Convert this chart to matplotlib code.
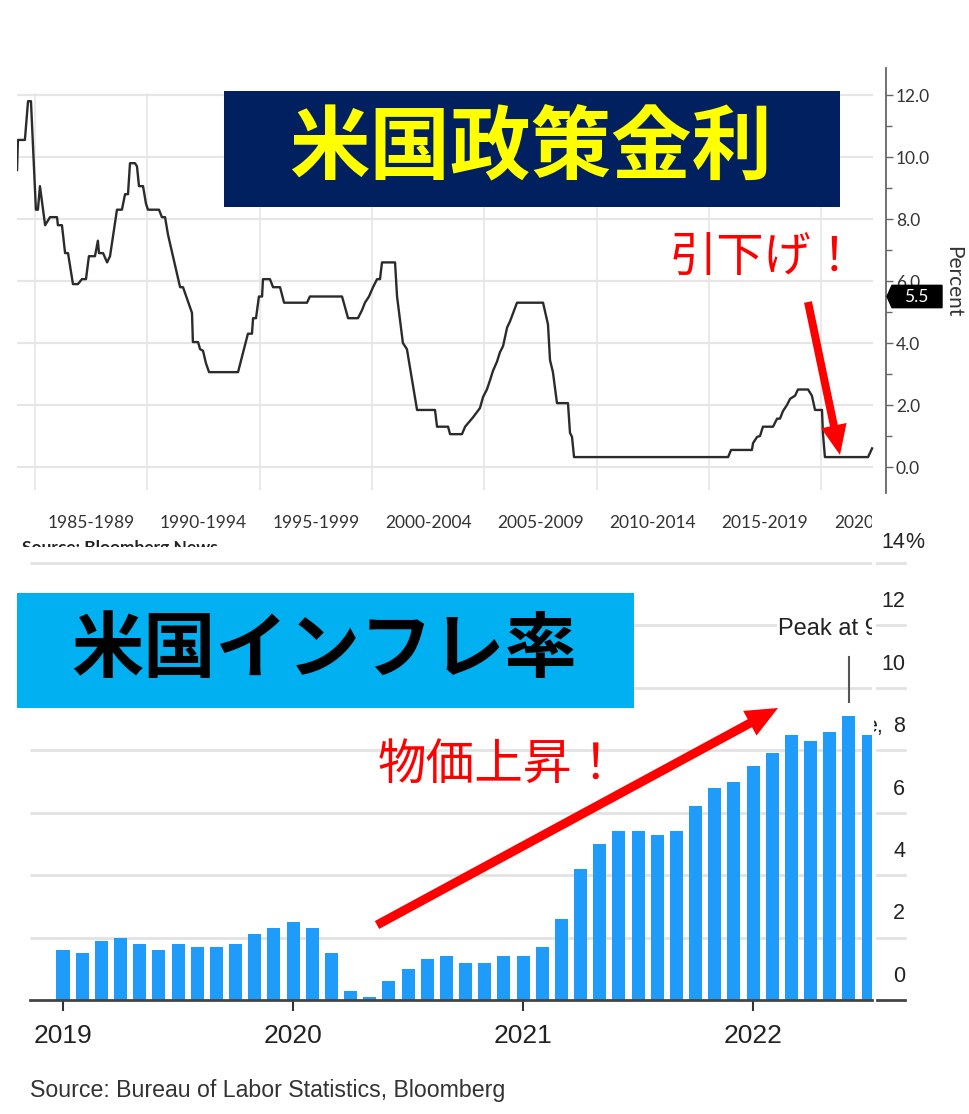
import numpy as np
import matplotlib
matplotlib.use("Agg")
import matplotlib.pyplot as plt
from matplotlib.transforms import Bbox, TransformedBbox, blended_transform_factory
from matplotlib.patches import Polygon, Rectangle, FancyArrow

plt.rcParams['font.family'] = ['Lato', 'Noto Sans CJK JP', 'DejaVu Sans']

W, H = 969, 1114

# upper chart: US policy rate, vertices of the step line (year, percent)
fed_year = [1984.20, 1984.24, 1984.55, 1984.69, 1984.82, 1985.04, 1985.13, 1985.22, 1985.45, 1985.67,
            1985.98, 1986.02, 1986.20, 1986.34, 1986.47, 1986.69, 1986.91, 1987.09, 1987.27, 1987.40,
            1987.67, 1987.80, 1987.85, 1988.03, 1988.21, 1988.34, 1988.65, 1988.87, 1989.01, 1989.14,
            1989.23, 1989.45, 1989.54, 1989.63, 1989.81, 1989.94, 1990.03, 1990.52, 1990.65, 1990.79,
            1990.92, 1991.46, 1991.59, 1991.99, 1992.03, 1992.26, 1992.35, 1992.48, 1992.61, 1992.75,
            1994.04, 1994.44, 1994.48, 1994.66, 1994.71, 1994.84, 1994.97, 1995.11, 1995.15, 1995.46,
            1995.60, 1995.91, 1996.09, 1997.11, 1997.24, 1998.67, 1998.94, 1999.38, 1999.56, 1999.69,
            1999.87, 2000.05, 2000.23, 2000.36, 2000.45, 2001.03, 2001.12, 2001.38, 2001.56, 2002.01,
            2002.81, 2002.90, 2003.39, 2003.48, 2004.01, 2004.15, 2004.50, 2004.81, 2004.95, 2005.12,
            2005.26, 2005.39, 2005.57, 2005.70, 2005.84, 2006.02, 2006.15, 2006.46, 2007.62, 2007.84,
            2007.93, 2008.06, 2008.24, 2008.73, 2008.82, 2008.91, 2009.00, 2015.86, 2015.99, 2016.92,
            2016.97, 2017.15, 2017.28, 2017.41, 2017.86, 2018.04, 2018.17, 2018.30, 2018.48, 2018.62,
            2018.84, 2018.97, 2019.42, 2019.59, 2019.73, 2020.04, 2020.08, 2020.17, 2022.09, 2022.27]
fed_rate = [9.58, 10.55, 10.55, 11.8, 11.8, 8.3, 8.3, 9.06, 7.8, 8.06,
            8.06, 7.8, 7.8, 6.9, 6.9, 5.9, 5.9, 6.06, 6.06, 6.8,
            6.8, 7.3, 6.9, 6.9, 6.6, 6.8, 8.3, 8.3, 8.8, 8.8,
            9.8, 9.8, 9.7, 9.06, 9.06, 8.5, 8.3, 8.3, 8.06, 8.06,
            7.5, 5.8, 5.8, 4.97, 4.03, 4.03, 3.8, 3.75, 3.35, 3.06,
            3.06, 4.2, 4.3, 4.3, 4.8, 4.8, 5.5, 5.5, 6.06, 6.06,
            5.8, 5.8, 5.3, 5.3, 5.5, 5.5, 4.8, 4.8, 5.06, 5.3,
            5.5, 5.8, 6.06, 6.06, 6.6, 6.6, 5.5, 4.0, 3.8, 1.84,
            1.84, 1.3, 1.3, 1.06, 1.06, 1.3, 1.6, 1.9, 2.26, 2.5,
            2.8, 3.1, 3.4, 3.7, 3.9, 4.5, 4.7, 5.3, 5.3, 4.6,
            3.45, 3.06, 2.06, 2.06, 1.1, 0.97, 0.32, 0.32, 0.55, 0.55,
            0.77, 0.97, 1.0, 1.3, 1.3, 1.56, 1.56, 1.8, 2.0, 2.2,
            2.3, 2.5, 2.5, 2.3, 1.84, 1.84, 1.1, 0.32, 0.32, 0.6]
fed_last_label = 5.5
fed_ticks = [0, 2, 4, 6, 8, 10, 12]
period_starts = [1985, 1990, 1995, 2000, 2005, 2010, 2015, 2020]
period_labels = ["1985-1989", "1990-1994", "1995-1999", "2000-2004",
                 "2005-2009", "2010-2014", "2015-2019", "2020-2024"]

# lower chart: US CPI, % change y/y, Jan 2019 - Jul 2022
cpi_values = [1.6, 1.5, 1.9, 2.0, 1.8, 1.6, 1.8, 1.7, 1.7, 1.8, 2.1, 2.3,
              2.5, 2.3, 1.5, 0.3, 0.1, 0.6, 1.0, 1.3, 1.4, 1.2, 1.2, 1.4,
              1.4, 1.7, 2.6, 4.2, 5.0, 5.4, 5.4, 5.3, 5.4, 6.2, 6.8, 7.0,
              7.5, 7.9, 8.5, 8.3, 8.6, 9.1, 8.5]
cpi_years = ["2019", "2020", "2021", "2022"]
cpi_ticks = [0, 2, 4, 6, 8, 10, 12, 14]


def rect(x0, y0, x1, y1):
    return [x0 / W, 1 - y1 / H, (x1 - x0) / W, (y1 - y0) / H]


def clip_fig(fig, x0, y0, x1, y1):
    return TransformedBbox(Bbox([[x0 / W, 1 - y1 / H], [x1 / W, 1 - y0 / H]]), fig.transFigure)


fig = plt.figure(figsize=(W / 100, H / 100), dpi=100)

# ---------------- upper chart ----------------
ax1 = fig.add_axes(rect(17, 68, 886, 493))
px_year = 22.46
ax1.set_xlim(1985 - 18 / px_year, 1985 + 851 / px_year)
ax1.set_ylim((467 - 493) / 31, (467 - 68) / 31)
grid_right = 1985 + 838 / px_year
ax1.vlines(period_starts, -0.74, 12.05, color='#e6e6e6', lw=1.2, zorder=1)
ax1.hlines(fed_ticks, ax1.get_xlim()[0], grid_right, color='#e6e6e6', lw=1.5, zorder=1)
ax1.plot(fed_year, fed_rate, color='#2b2b2b', lw=1.7, zorder=3)

for s in ['top', 'left', 'bottom']:
    ax1.spines[s].set_visible(False)
ax1.spines['right'].set_color('#666666')
ax1.spines['right'].set_linewidth(1.3)
ax1.set_xticks([])
ax1.yaxis.tick_right()
ax1.set_yticks(fed_ticks)
ax1.set_yticklabels([f"{v:.1f}" for v in fed_ticks])
ax1.set_yticks([v + 1 for v in fed_ticks[:-1]], minor=True)
ax1.tick_params(axis='y', which='major', direction='out', length=5, width=1, color='#666666',
                labelsize=12.5, labelcolor='#333333', pad=2)
ax1.tick_params(axis='y', which='minor', direction='out', length=4, width=1, color='#666666')
fig.text(953 / W, 1 - 282 / H, "Percent", rotation=270, ha='center', va='center',
         fontsize=15, color='#333333')

# last value tag
tag_tr = blended_transform_factory(fig.transFigure, ax1.transData)
hh = 0.36
tag = Polygon([(887 / W, fed_last_label), (892 / W, fed_last_label + hh), (942 / W, fed_last_label + hh),
               (942 / W, fed_last_label - hh), (892 / W, fed_last_label - hh)],
              closed=True, fc='black', ec='black', transform=tag_tr, zorder=20)
fig.add_artist(tag)
fig.text(916 / W, fed_last_label, f"{fed_last_label}", transform=tag_tr, ha='center', va='center',
         color='white', fontsize=12.5, zorder=21)

lab_tr = blended_transform_factory(ax1.transData, fig.transFigure)
cbox = clip_fig(fig, 0, 0, 872, H)
for start, lab in zip(period_starts, period_labels):
    t = fig.text(start + 2.5, 1 - 523 / H, lab, transform=lab_tr, ha='center', va='center',
                 fontsize=12.5, color='#333333')
    t.set_clip_box(cbox)
    t.set_clip_on(True)
src1 = fig.text(22 / W, 1 - 548 / H, "Source: Bloomberg News", ha='left', va='center',
                fontsize=12.5, fontweight='bold', color='#222222')
src1.set_clip_box(clip_fig(fig, 0, 0, W, 547))
src1.set_clip_on(True)

# ---------------- lower chart ----------------
ax2 = fig.add_axes(rect(30, 540, 872, 1000))
px_month = 19.17
px_unit = 31.21
ax2.set_xlim((30 - 63) / px_month, (872 - 63) / px_month)
ax2.set_ylim(0, (1000 - 540) / px_unit)
idx = np.arange(len(cpi_values))
ax2.hlines(cpi_ticks[1:], ax2.get_xlim()[0], ax2.get_xlim()[1], color='#e2e2e2', lw=2, zorder=1)
ax2.bar(idx, cpi_values, width=0.68, color='#1f9bf9', zorder=3)
for s in ['top', 'left', 'right']:
    ax2.spines[s].set_visible(False)
ax2.spines['bottom'].set_color('#444444')
ax2.spines['bottom'].set_linewidth(2)
ax2.spines['bottom'].set_zorder(4)
ax2.set_yticks([])
ax2.set_xticks([12 * i for i in range(len(cpi_years))])
ax2.set_xticklabels(cpi_years, family='Liberation Sans')
ax2.tick_params(axis='x', direction='out', length=8, width=1.5, color='#333333',
                labelsize=19, labelcolor='#222222', pad=9)

peak_i = int(np.argmax(cpi_values))
peak_v = cpi_values[peak_i]
ax2.plot([peak_i, peak_i], [peak_v + 0.45, peak_v + 1.9], color='#555555', lw=1.5, zorder=4)
ax2.text(peak_i - 3.7, peak_v + 2.8, f"Peak at {peak_v}%", ha='left', va='center', fontsize=17,
         family='Liberation Sans', color='#222222', zorder=5, clip_on=True,
         bbox=dict(fc='white', ec='none', pad=1))

# right-hand tick area of the lower chart
rt = blended_transform_factory(fig.transFigure, ax2.transData)
for v in cpi_ticks:
    col = '#444444' if v == 0 else '#e2e2e2'
    ax2.plot([877 / W, 905 / W], [v, v], color=col, lw=2, transform=rt, clip_on=False)
    off = 0.65 if v == cpi_ticks[-1] else 0.76
    ax2.text(905 / W, v + off, str(v), transform=rt, ha='right', va='center', fontsize=15.5,
             family='Liberation Sans', color='#222222', clip_on=False)
ax2.text(905 / W, cpi_ticks[-1] + 0.65, "%", transform=rt, ha='left', va='center', fontsize=15.5,
         family='Liberation Sans', color='#222222', clip_on=False)
et = ax2.text(883 / W, 8.76, "e,", transform=rt, ha='right', va='center', fontsize=15.5,
              family='Liberation Sans', color='#222222', clip_on=False)
et.set_clip_box(clip_fig(fig, 874, 0, W, H))
et.set_clip_on(True)

fig.text(30 / W, 1 - 1090 / H, "Source: Bureau of Labor Statistics, Bloomberg", ha='left', va='center',
         fontsize=16.7, family='Liberation Sans', color='#333333')

# ---------------- overlay: title boxes, comments, arrows ----------------
ov = fig.add_axes([0, 0, 1, 1], zorder=10)
ov.set_xlim(0, W)
ov.set_ylim(H, 0)
ov.axis('off')
ov.patch.set_alpha(0)

ov.add_patch(Rectangle((224, 91), 616, 116, fc='#002060', ec='none'))
ov.text(531, 150, "米国政策金利", ha='center', va='center', fontsize=58, fontweight='bold',
        color='#FFFF00', family='Noto Sans CJK JP')
ov.add_patch(Rectangle((17, 593), 617, 115, fc='#00B0F0', ec='none'))
ov.text(324, 651, "米国インフレ率", ha='center', va='center', fontsize=52, fontweight='bold',
        color='black', family='Noto Sans CJK JP')

ov.text(670, 259, "引下げ！", ha='left', va='center', fontsize=34, color='#FF0000',
        family='Noto Sans CJK JP')
ov.text(378, 765, "物価上昇！", ha='left', va='center', fontsize=35, color='#FF0000',
        family='Noto Sans CJK JP')

ov.add_patch(FancyArrow(808, 302, 840 - 808, 455 - 302, width=8, head_width=26, head_length=30,
                        length_includes_head=True, color='#FF0000', ec='none'))
ov.add_patch(FancyArrow(377, 925, 778 - 377, 708 - 925, width=9, head_width=28, head_length=32,
                        length_includes_head=True, color='#FF0000', ec='none'))

fig.savefig("out.png", dpi=100)
